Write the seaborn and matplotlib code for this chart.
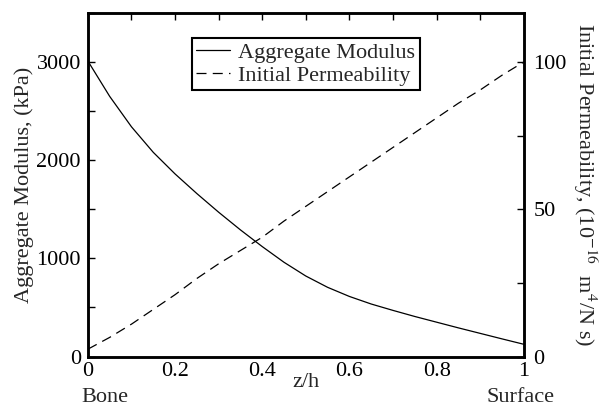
import numpy as np
import pandas as pd
import seaborn as sns
import matplotlib.pyplot as plt
from matplotlib.ticker import MultipleLocator

# %%
z_h = [0.0, 0.05, 0.1, 0.15, 0.2, 0.25, 0.3, 0.35, 0.4, 0.45, 0.5,
       0.55, 0.6, 0.65, 0.7, 0.75, 0.8, 0.85, 0.9, 0.95, 1.0]
aggregate_modulus = [3010, 2650, 2340, 2080, 1860, 1660, 1470, 1290, 1120, 960, 820,
                     705, 612, 535, 470, 408, 350, 292, 236, 180, 125]
initial_permeability = [2.5, 6.5, 11.0, 16.0, 21.0, 26.5, 31.5, 36.0, 40.5, 46.0, 51.0,
                        56.0, 61.0, 66.0, 71.0, 76.0, 81.0, 86.0, 90.5, 95.5, 100.0]
x_ticklabels = ['0', '0.2', '0.4', '0.6', '0.8', '1']

df = pd.DataFrame({'z/h': z_h, 'modulus': aggregate_modulus, 'permeability': initial_permeability})

# %%
FS = 16
sns.set_theme(style="white")
plt.rcParams['font.family'] = ['Liberation Serif', 'DejaVu Serif']
plt.rcParams['font.size'] = FS
plt.rcParams['mathtext.fontset'] = 'stix'

fig = plt.figure(figsize=(6.02, 4.17), dpi=100)
ax = fig.add_axes([0.146, 0.145, 0.724, 0.824])
ax2 = ax.twinx()

sns.lineplot(data=df, x='z/h', y='modulus', ax=ax, color='black', linewidth=0.9,
             label='Aggregate Modulus', legend=False)
sns.lineplot(data=df, x='z/h', y='permeability', ax=ax2, color='black', linewidth=0.9,
             linestyle=(0, (8, 5)), label='Initial Permeability', legend=False)

ax.set_xlim(0, 1)
ax.set_ylim(0, 3500)
ax2.set_ylim(0, 3500 / 30)

ax.set_xticks([0, 0.2, 0.4, 0.6, 0.8, 1.0])
ax.set_xticklabels(x_ticklabels)
ax.xaxis.set_minor_locator(MultipleLocator(0.1))
ax.yaxis.set_major_locator(MultipleLocator(1000))
ax.yaxis.set_minor_locator(MultipleLocator(500))
ax2.yaxis.set_major_locator(MultipleLocator(50))
ax2.yaxis.set_minor_locator(MultipleLocator(25))

for a in (ax, ax2):
    for s in a.spines.values():
        s.set_linewidth(1.8)
        s.set_color('black')
ax.tick_params(axis='both', which='both', direction='in', length=5, width=1,
               colors='black', labelsize=FS, top=True, right=False)
ax.tick_params(axis='x', which='both', pad=4)
ax.tick_params(axis='y', which='both', pad=5)
ax2.tick_params(axis='y', which='both', direction='in', length=5, width=1,
                colors='black', labelsize=FS, pad=7)

ax.set_xlabel('z/h', fontsize=FS, labelpad=-6)
ax.set_ylabel('Aggregate Modulus, (kPa)', fontsize=FS, labelpad=2)
ax2.set_ylabel('Initial Permeability, (10$^{-16}$  m$^4$/N s)', fontsize=FS,
               rotation=-90, labelpad=23)

ax.text(-0.014, -0.12, 'Bone', transform=ax.transAxes, ha='left', va='center', fontsize=FS)
ax.text(1.071, -0.12, 'Surface', transform=ax.transAxes, ha='right', va='center', fontsize=FS)

h1, l1 = ax.get_legend_handles_labels()
h2, l2 = ax2.get_legend_handles_labels()
leg = ax2.legend(h1 + h2, l1 + l2, loc='upper center', bbox_to_anchor=(0.5, 0.96),
                 frameon=True, fancybox=False, edgecolor='black', framealpha=1,
                 handlelength=1.5, handletextpad=0.4, borderpad=0.2, labelspacing=0.1,
                 fontsize=FS)
leg.get_frame().set_linewidth(1.5)

fig.savefig('out.png', dpi=100)
